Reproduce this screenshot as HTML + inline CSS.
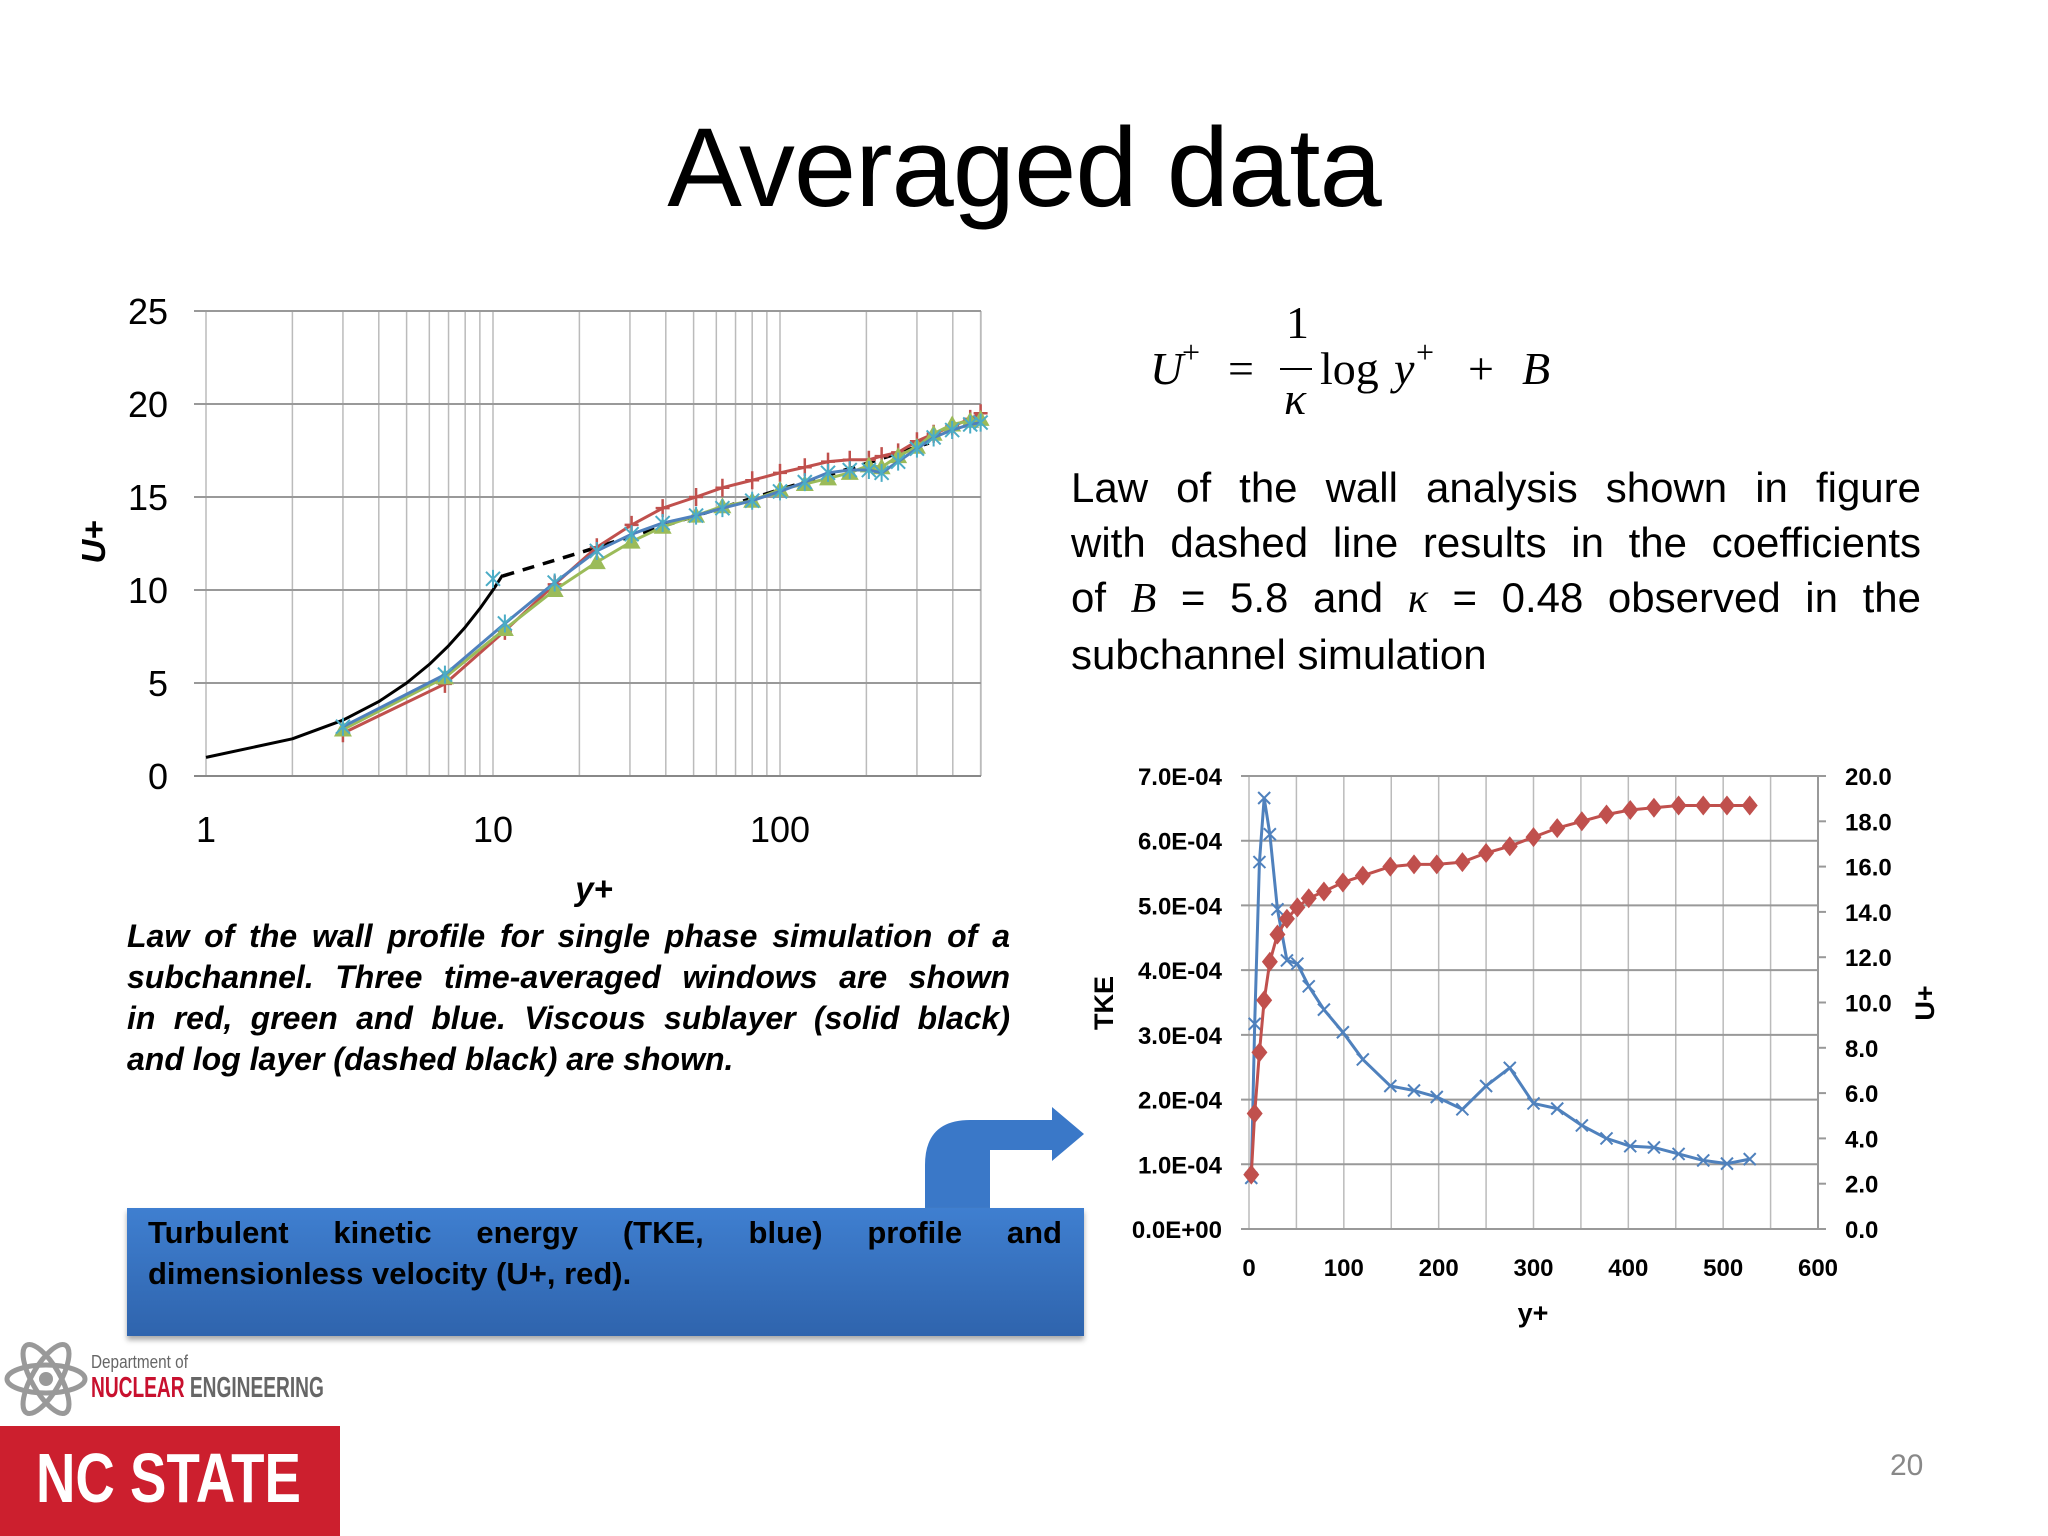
<!DOCTYPE html>
<html><head><meta charset="utf-8">
<style>
body{margin:0;background:#fff;}
#page{position:relative;width:2048px;height:1536px;overflow:hidden;background:#fff;font-family:"Liberation Sans",sans-serif;}
.abs{position:absolute;}
.title{left:0;width:2048px;top:103px;text-align:center;font-size:112px;color:#000;letter-spacing:-1px;}
.para{left:1071px;top:460px;width:850px;font-size:42px;line-height:55px;}
.jl{text-align:justify;text-align-last:justify;white-space:nowrap;}
.cap{left:127px;top:916px;width:883px;font-size:32px;line-height:41px;font-weight:bold;font-style:italic;}
.box{left:127px;top:1208px;width:957px;height:128px;background:linear-gradient(#3f7fd0,#2f64ad);box-shadow:0 4px 5px #aaa;}
.boxt{left:148px;top:1212px;width:914px;font-size:31px;line-height:41px;font-weight:bold;}
.m{font-family:"Liberation Serif",serif;font-style:italic;}
</style></head><body>
<div id="page">
<div class="abs title">Averaged data</div>

<div class="abs" style="left:1150px;top:296px;width:420px;height:130px;font-family:'Liberation Serif',serif;font-size:46px;">
  <span class="abs m" style="left:0;top:46px;">U</span><span class="abs" style="left:32px;top:38px;font-size:32px">+</span>
  <span class="abs" style="left:78px;top:46px;">=</span>
  <span class="abs" style="left:136px;top:0px;">1</span>
  <div class="abs" style="left:130px;top:72px;width:32px;height:2px;background:#000"></div>
  <span class="abs m" style="left:134px;top:76px;">κ</span>
  <span class="abs" style="left:170px;top:46px;">log</span>
  <span class="abs m" style="left:244px;top:46px;">y</span><span class="abs" style="left:266px;top:38px;font-size:32px">+</span>
  <span class="abs" style="left:318px;top:46px;">+</span>
  <span class="abs m" style="left:372px;top:46px;">B</span>
</div>

<div class="abs para">
<div class="jl">Law of the wall analysis shown in figure</div>
<div class="jl">with dashed line results in the coefficients</div>
<div class="jl">of <span class="m">B</span> = 5.8 and <span class="m">κ</span> = 0.48 observed in the</div>
<div>subchannel simulation</div>
</div>

<div class="abs cap">
<div class="jl">Law of the wall profile for single phase simulation of a</div>
<div class="jl">subchannel. Three time-averaged windows are shown</div>
<div class="jl">in red, green and blue. Viscous sublayer (solid black)</div>
<div>and log layer (dashed black) are shown.</div>
</div>

<svg class="abs" style="left:0;top:0" width="2048" height="1536">
  <g id="left"></g>
  <g id="right"></g>
  <path d="M925 1208 L925 1165 Q925 1120 970 1120 L1052 1120 L1052 1107 L1084 1134 L1052 1161 L1052 1150 L990 1150 L990 1208 Z" fill="#3a78c8"/>
</svg>

<div class="abs box"></div>
<div class="abs boxt"><div class="jl">Turbulent kinetic energy (TKE, blue) profile and</div><div>dimensionless velocity (U+, red).</div></div>

<svg class="abs" style="left:4px;top:1334px" width="84" height="90">
  <g fill="none" stroke="#999" stroke-width="5">
    <ellipse cx="42" cy="45" rx="39" ry="14"/>
    <ellipse cx="42" cy="45" rx="39" ry="14" transform="rotate(60 42 45)"/>
    <ellipse cx="42" cy="45" rx="39" ry="14" transform="rotate(-60 42 45)"/>
  </g><circle cx="42" cy="45" r="7" fill="#999"/>
</svg>
<div class="abs" style="left:91px;top:1352px;font-size:18px;color:#666;transform:scaleX(0.85);transform-origin:left;">Department of</div>
<div class="abs" style="left:91px;top:1372px;font-size:29px;font-weight:bold;color:#666;transform:scaleX(0.66);transform-origin:left;white-space:nowrap;"><span style="color:#c8102e">NUCLEAR</span> ENGINEERING</div>
<div class="abs" style="left:0;top:1426px;width:340px;height:110px;background:#cc1f2e;"></div>
<div class="abs" style="left:36px;top:1438px;font-size:70px;font-weight:bold;color:#fff;transform:scaleX(0.78);transform-origin:left;white-space:nowrap;">NC STATE</div>
<div class="abs" style="left:1890px;top:1449px;font-size:30px;color:#888;">20</div>
</div>

<script>
const NS="http://www.w3.org/2000/svg";
// ---- left chart data ----
const lawX=[3,6.8,11,16.4,23,30.4,39,51,63,80,100,122,147,175,204,226,258,300,343,398,460,500];
const redU=[2.3,4.95,7.8,10.3,12.3,13.5,14.4,15.0,15.5,15.9,16.3,16.6,16.9,17.0,17.0,17.2,17.4,18.0,18.4,18.8,19.2,19.5];
const greenU=[2.5,5.3,7.9,10.0,11.5,12.6,13.4,14.0,14.5,14.8,15.4,15.7,16.0,16.3,16.7,16.6,17.2,17.7,18.4,18.9,19.1,19.2];
const blueU=[2.65,5.45,8.2,10.4,12.1,13.0,13.6,14.0,14.4,14.8,15.3,15.8,16.3,16.45,16.45,16.3,16.9,17.6,18.2,18.6,18.9,19.0];
const viscX=[1,2,3,4,5,6,7,8,9,10,10.8];
const viscU=[1,2,3,4,5,6,7,8,9,10,10.8];
const logX=[10.8,20,50,100,200,330];
const logU=[10.75,12.0,13.95,15.4,16.8,17.9];
const extraBlueX=[10];const extraBlueU=[10.6];
const leftYTicks=[0,5,10,15,20,25];
const leftXTicks=[1,10,100];
// ---- right chart data ----
const tkeX=[2.4,6,11,16,22,30,40,51,63,79,99,120,149,174,198,225,250,275,300,325,351,377,402,427,453,479,504,528];
const tkeVal=[0.79,3.17,5.67,6.66,6.1,4.94,4.15,4.1,3.75,3.39,3.04,2.62,2.21,2.14,2.04,1.85,2.21,2.49,1.94,1.86,1.60,1.40,1.28,1.26,1.16,1.06,1.01,1.08];
const uPlus=[2.4,5.1,7.8,10.1,11.8,13.0,13.7,14.2,14.6,14.9,15.3,15.6,16.0,16.1,16.1,16.2,16.6,16.9,17.3,17.7,18.0,18.3,18.5,18.6,18.7,18.7,18.7,18.7];
const tkeTicks=["0.0E+00","1.0E-04","2.0E-04","3.0E-04","4.0E-04","5.0E-04","6.0E-04","7.0E-04"];
const uTicks=["0.0","2.0","4.0","6.0","8.0","10.0","12.0","14.0","16.0","18.0","20.0"];
const rxTicks=[0,100,200,300,400,500,600];

function el(tag,attrs,parent,txt){const e=document.createElementNS(NS,tag);for(const k in attrs)e.setAttribute(k,attrs[k]);if(txt!==undefined)e.textContent=txt;parent.appendChild(e);return e;}

// left chart
const L=document.getElementById('left');
const lx0=206,lx1=981,ly0=776,ly1=311,dec=287;
const lX=v=>lx0+Math.log10(v)*dec;
const lY=v=>ly0+(ly1-ly0)*v/25;
for(let d=1;d<=100;d*=10)for(let k=1;k<10;k++){const v=d*k;if(v>500)break;
  const g=el('line',{x1:lX(v),x2:lX(v),y1:ly1,y2:ly0,stroke:'#bbb','stroke-width':1.5},L);
  }
el('line',{x1:lx1,x2:lx1,y1:ly1,y2:ly0,stroke:'#bbb','stroke-width':1.5},L);
leftYTicks.forEach(t=>{const g=el('line',{x1:lx0-12,x2:lx1,y1:lY(t),y2:lY(t),stroke:t?'#999':'#888','stroke-width':2},L);
  
  const tx=el('text',{x:168,y:lY(t)+13,'text-anchor':'end','font-size':36,fill:'#000'},L,t);
  });
leftXTicks.forEach(t=>{const tx=el('text',{x:lX(t),y:842,'text-anchor':'middle','font-size':36},L,t);
  });
let t1=el('text',{x:594,y:900,'text-anchor':'middle','font-size':33,'font-weight':'bold','font-style':'italic'},L,'y+');

let t2=el('text',{x:0,y:0,'text-anchor':'middle','font-size':33,'font-weight':'bold','font-style':'italic',transform:'translate(105 542) rotate(-90)'},L,'U+');


function poly(g,xs,ys,fx,fy,color,w,dash,name){const p=el('polyline',{points:xs.map((x,i)=>fx(x)+','+fy(ys[i])).join(' '),fill:'none',stroke:color,'stroke-width':w,'stroke-linejoin':'round'},g);
  if(dash)p.setAttribute('stroke-dasharray',dash);
  }
function marks(g,xs,ys,fx,fy,type,color,name){xs.forEach((x,i)=>{const cx=fx(x),cy=fy(ys[i]);let m;
  if(type==='plus')m=el('path',{d:`M${cx} ${cy-9}V${cy+9}M${cx-7} ${cy}H${cx+7}`,stroke:color,'stroke-width':2.5},g);
  else if(type==='tri')m=el('path',{d:`M${cx} ${cy-9}L${cx+9} ${cy+7}L${cx-9} ${cy+7}Z`,fill:color},g);
  else if(type==='star')m=el('path',{d:`M${cx-7} ${cy-7}L${cx+7} ${cy+7}M${cx+7} ${cy-7}L${cx-7} ${cy+7}M${cx} ${cy-9}V${cy+9}`,stroke:color,'stroke-width':2},g);
  else if(type==='x')m=el('path',{d:`M${cx-6} ${cy-6}L${cx+6} ${cy+6}M${cx+6} ${cy-6}L${cx-6} ${cy+6}`,stroke:color,'stroke-width':2},g);
  else m=el('path',{d:`M${cx} ${cy-10}L${cx+8} ${cy}L${cx} ${cy+10}L${cx-8} ${cy}Z`,fill:color},g);
  });}

poly(L,viscX,viscU,lX,lY,'#000',3,null,'viscous-sublayer-line');
poly(L,logX,logU,lX,lY,'#000',3.5,'12 9','log-layer-line');
poly(L,lawX,redU,lX,lY,'#c0504d',3,null,'red-window-line');
marks(L,lawX,redU,lX,lY,'plus','#c0504d','red-window-point');
poly(L,lawX,greenU,lX,lY,'#9bbb59',3,null,'green-window-line');
marks(L,lawX,greenU,lX,lY,'tri','#9bbb59','green-window-point');
poly(L,lawX,blueU,lX,lY,'#4f81bd',3,null,'blue-window-line');
marks(L,lawX,blueU,lX,lY,'star','#4bacc6','blue-window-point');
marks(L,extraBlueX,extraBlueU,lX,lY,'star','#4bacc6','blue-window-point');

// right chart
const R=document.getElementById('right');
const rx0=1249,rx1=1818,ry0=1229,ry1=776;
const rX=v=>rx0+(rx1-rx0)*v/600;
const rY=v=>ry0+(ry1-ry0)*v/7;
const rY2=v=>ry0+(ry1-ry0)*v/20;
for(let v=0;v<=600;v+=50){const g=el('line',{x1:rX(v),x2:rX(v),y1:ry1,y2:ry0,stroke:'#bbb','stroke-width':1.5},R);
  }
tkeTicks.forEach((t,i)=>{const g=el('line',{x1:rx0-8,x2:rx1,y1:rY(i),y2:rY(i),stroke:'#999','stroke-width':2},R);
  
  const tx=el('text',{x:1222,y:rY(i)+9,'text-anchor':'end','font-size':24,'font-weight':'bold'},R,t);
  });
el('line',{x1:rx1,x2:rx1,y1:ry1,y2:ry0,stroke:'#999','stroke-width':2},R);
uTicks.forEach((t,i)=>{el('line',{x1:rx1,x2:rx1+8,y1:rY2(i*2),y2:rY2(i*2),stroke:'#999','stroke-width':2},R);
  const tx=el('text',{x:1845,y:rY2(i*2)+9,'font-size':24,'font-weight':'bold'},R,t);
  });
rxTicks.forEach(t=>{const tx=el('text',{x:rX(t),y:1276,'text-anchor':'middle','font-size':24,'font-weight':'bold'},R,t);
  });
let t3=el('text',{x:1533,y:1322,'text-anchor':'middle','font-size':27,'font-weight':'bold'},R,'y+');

let t4=el('text',{x:0,y:0,'text-anchor':'middle','font-size':27,'font-weight':'bold',transform:'translate(1113 1003) rotate(-90)'},R,'TKE');

let t5=el('text',{x:0,y:0,'text-anchor':'middle','font-size':27,'font-weight':'bold',transform:'translate(1934 1003) rotate(-90)'},R,'U+');

poly(R,tkeX,tkeVal,rX,rY,'#4f81bd',3,null,'tke-line');
marks(R,tkeX,tkeVal,rX,rY,'x','#4f81bd','tke-point');
poly(R,tkeX,uPlus,rX,rY2,'#c0504d',3,null,'uplus-line');
marks(R,tkeX,uPlus,rX,rY2,'dia','#c0504d','uplus-point');
</script>
</body></html>
